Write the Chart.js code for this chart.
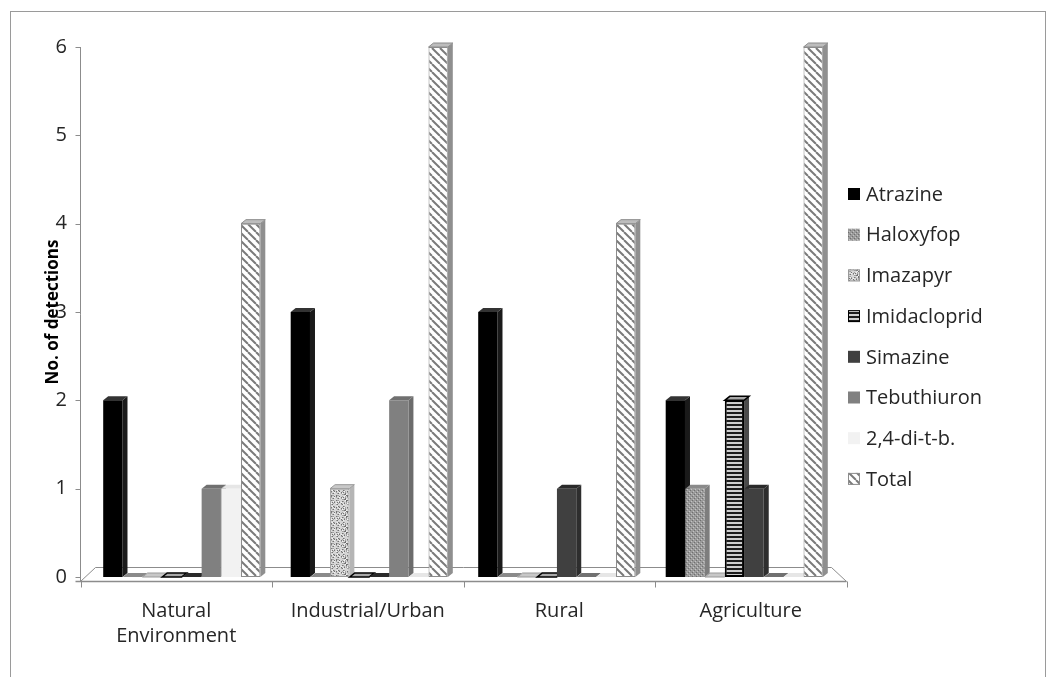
<!DOCTYPE html>
<html>
<head>
<meta charset="utf-8">
<script src="https://cdn.jsdelivr.net/npm/chart.js@4.4.1/dist/chart.umd.min.js"></script>
<style>
  html, body { margin: 0; padding: 0; background: #fff; }
  #wrap { width: 1057px; height: 677px; position: relative; }
</style>
</head>
<body>
<div id="wrap"><canvas id="c" width="1057" height="677"></canvas></div>
<script>
// Land-use categories along the x axis
const categories = [['Natural', 'Environment'], 'Industrial/Urban', 'Rural', 'Agriculture'];

// Detections per herbicide, one value per category
const atrazine     = [2, 3, 3, 2];
const haloxyfop    = [0, 0, 0, 1];
const imazapyr     = [0, 1, 0, 0];
const imidacloprid = [0, 0, 0, 2];
const simazine     = [0, 0, 1, 1];
const tebuthiuron  = [1, 2, 0, 0];
const ditb         = [1, 0, 0, 0];
const total        = [4, 6, 4, 6];

const yTicks = [0, 1, 2, 3, 4, 5, 6];
const yTitle = 'No. of detections';

const FONT = '"Open Sans", "Noto Sans", sans-serif';
const TEXT = '#262626';
const AXIS = '#8c8c8c';
const INSET = 8;        // columns stand halfway back on the floor
const DX = 5, DY = 4;   // depth offset for the pseudo-3D faces

// ---- fill textures ----
function tile(w, h, paint) {
  const c = document.createElement('canvas');
  c.width = w; c.height = h;
  const g = c.getContext('2d');
  paint(g, w, h);
  return g.createPattern(c, 'repeat');
}
const hatchTotal = tile(8, 8, (g, w, h) => {
  g.fillStyle = '#ffffff'; g.fillRect(0, 0, w, h);
  g.strokeStyle = '#7a7a7a'; g.lineWidth = 2;
  for (let k = -1; k <= 1; k++) {
    g.beginPath(); g.moveTo(k * w, 0); g.lineTo(k * w + w, h); g.stroke();
  }
});
const dotsHaloxyfop = tile(4, 4, (g) => {
  g.fillStyle = '#9a9a9a'; g.fillRect(0, 0, 4, 4);
  g.fillStyle = '#6f6f6f'; g.fillRect(0, 0, 1, 1); g.fillRect(2, 2, 1, 1);
  g.fillStyle = '#c4c4c4'; g.fillRect(1, 3, 1, 1); g.fillRect(3, 1, 1, 1);
});
const speckleImazapyr = tile(16, 16, (g) => {
  g.fillStyle = '#d6d6d6'; g.fillRect(0, 0, 16, 16);
  for (let x = 0; x < 16; x++) {
    for (let y = 0; y < 16; y++) {
      const h = (x * 37 + y * 91 + x * y * 13) % 11;
      if (h < 2) { g.fillStyle = '#737373'; g.fillRect(x, y, 1, 1); }
      else if (h < 4) { g.fillStyle = '#a3a3a3'; g.fillRect(x, y, 1, 1); }
      else if (h === 10) { g.fillStyle = '#f4f4f4'; g.fillRect(x, y, 1, 1); }
    }
  }
});
const stripesImidacloprid = tile(4, 4, (g) => {
  g.fillStyle = '#cfcfcf'; g.fillRect(0, 0, 4, 4);
  g.fillStyle = '#1c1c1c'; g.fillRect(0, 0, 4, 2);
});

const series = [
  { label: 'Atrazine',     data: atrazine,     fill: '#000000',           side: '#1a1a1a', top: '#333333', border: 'rgba(0,0,0,0)', bw: 0 },
  { label: 'Haloxyfop',    data: haloxyfop,    fill: dotsHaloxyfop,       side: '#7d7d7d', top: '#8a8a8a', border: 'rgba(0,0,0,0)', bw: 0 },
  { label: 'Imazapyr',     data: imazapyr,     fill: speckleImazapyr,     side: '#b5b5b5', top: '#c8c8c8', border: '#9a9a9a', bw: 1 },
  { label: 'Imidacloprid', data: imidacloprid, fill: stripesImidacloprid, side: '#4a4a4a', top: '#a8a8a8', border: '#000000', bw: 2 },
  { label: 'Simazine',     data: simazine,     fill: '#404040',           side: '#2e2e2e', top: '#2a2a2a', border: 'rgba(0,0,0,0)', bw: 0 },
  { label: 'Tebuthiuron',  data: tebuthiuron,  fill: '#808080',           side: '#6c6c6c', top: '#707070', border: 'rgba(0,0,0,0)', bw: 0 },
  { label: '2,4-di-t-b.',  data: ditb,         fill: '#f2f2f2',           side: '#e2e2e2', top: '#e6e6e6', border: 'rgba(0,0,0,0)', bw: 0 },
  { label: 'Total',        data: total,        fill: hatchTotal,          side: '#8f8f8f', top: '#bdbdbd', border: '#8c8c8c', bw: 1 }
];

// frame around the whole figure
const framePlugin = {
  id: 'frame',
  beforeDraw(chart) {
    const ctx = chart.ctx;
    ctx.save();
    ctx.strokeStyle = '#9a9a9a'; ctx.lineWidth = 1;
    ctx.strokeRect(10.5, 11.5, 1035, 720);
    ctx.restore();
  }
};

// maps a position on the column plane onto the floor's front edge
function frontGeometry(chart) {
  const a = chart.chartArea, xs = chart.scales.x;
  const fl = Math.round(a.left - INSET) + 0.5, fr = Math.round(a.right + INSET) + 0.5;
  const step = xs.getPixelForValue(1) - xs.getPixelForValue(0);
  const firstB = xs.getPixelForValue(0) - step / 2;
  const lastB = firstB + categories.length * step;
  const project = (px) => fl + (px - firstB) / (lastB - firstB) * (fr - fl);
  return { fl, fr, step, firstB, project };
}

// y axis line, floor plane, front edge, category ticks and labels
const floorPlugin = {
  id: 'floor',
  beforeDatasetsDraw(chart) {
    const ctx = chart.ctx, xs = chart.scales.x, ys = chart.scales.y;
    const y0 = ys.getPixelForValue(0);
    const front = y0 + 4.5, back = y0 - 9.5;
    const g = frontGeometry(chart);
    const fl = g.fl, fr = g.fr;
    ctx.save();
    ctx.strokeStyle = AXIS; ctx.lineWidth = 1;
    // value axis with its tick marks
    ctx.beginPath(); ctx.moveTo(fl, ys.getPixelForValue(yTicks[yTicks.length - 1])); ctx.lineTo(fl, front); ctx.stroke();
    yTicks.forEach(v => {
      const ty = Math.round(ys.getPixelForValue(v)) + 0.5;
      ctx.beginPath(); ctx.moveTo(fl - 5, ty); ctx.lineTo(fl, ty); ctx.stroke();
    });
    // floor outline
    ctx.beginPath();
    ctx.moveTo(fl, front); ctx.lineTo(fl + 15, back);
    ctx.lineTo(fr - 15, back); ctx.lineTo(fr, front);
    ctx.stroke();
    ctx.lineWidth = 1.5;
    ctx.beginPath(); ctx.moveTo(fl - 5, front); ctx.lineTo(fr, front); ctx.stroke();
    ctx.lineWidth = 1;
    // category boundaries on the front edge
    for (let k = 0; k <= categories.length; k++) {
      const bx = Math.round(g.project(g.firstB + k * g.step)) + 0.5;
      ctx.beginPath(); ctx.moveTo(bx, front); ctx.lineTo(bx, front + 6); ctx.stroke();
    }
    // category labels centred under the front edge
    ctx.font = '20px ' + FONT;
    ctx.fillStyle = TEXT;
    ctx.textAlign = 'center'; ctx.textBaseline = 'middle';
    categories.forEach((lab, i) => {
      const cx = g.project(xs.getPixelForValue(i));
      const lines = Array.isArray(lab) ? lab : [lab];
      lines.forEach((t, j) => ctx.fillText(t, cx, 611 + j * 25));
    });
    ctx.restore();
  }
};

// top and side faces giving each column some depth
const depthPlugin = {
  id: 'depth',
  beforeDatasetsDraw(chart) {
    const ctx = chart.ctx;
    ctx.save();
    chart.data.datasets.forEach((ds, i) => {
      const meta = chart.getDatasetMeta(i);
      meta.data.forEach((bar) => {
        const p = bar.getProps(['x', 'y', 'base', 'width'], true);
        const l = p.x - p.width / 2, r = p.x + p.width / 2;
        ctx.fillStyle = ds.sideColor;
        ctx.beginPath();
        ctx.moveTo(r, p.y); ctx.lineTo(r + DX, p.y - DY);
        ctx.lineTo(r + DX, p.base - DY); ctx.lineTo(r, p.base);
        ctx.closePath(); ctx.fill();
        ctx.fillStyle = ds.topColor;
        ctx.beginPath();
        ctx.moveTo(l, p.y); ctx.lineTo(r, p.y);
        ctx.lineTo(r + DX, p.y - DY); ctx.lineTo(l + DX, p.y - DY);
        ctx.closePath(); ctx.fill();
        if (ds.borderWidth > 0) {
          ctx.strokeStyle = ds.borderColor; ctx.lineWidth = ds.borderWidth > 1 ? 1.5 : 1;
          ctx.stroke();
        }
      });
    });
    ctx.restore();
  }
};

// rotated y-axis title
const yTitlePlugin = {
  id: 'ytitle',
  afterDraw(chart) {
    const ctx = chart.ctx, a = chart.chartArea;
    ctx.save();
    ctx.translate(53, (a.top + a.bottom) / 2);
    ctx.rotate(-Math.PI / 2);
    ctx.font = 'bold 17px ' + FONT;
    ctx.fillStyle = '#000';
    ctx.textAlign = 'center'; ctx.textBaseline = 'middle';
    ctx.fillText(yTitle, 0, 0);
    ctx.restore();
  }
};

// legend column on the right
const legendPlugin = {
  id: 'sideLegend',
  afterDraw(chart) {
    const ctx = chart.ctx;
    ctx.save();
    ctx.font = '20px ' + FONT;
    ctx.textBaseline = 'middle';
    chart.data.datasets.forEach((ds, i) => {
      const cy = 194 + i * 40.7;
      ctx.fillStyle = ds.backgroundColor;
      ctx.fillRect(848, cy - 6, 12, 12);
      if (ds.borderWidth > 0) {
        ctx.strokeStyle = ds.borderColor; ctx.lineWidth = 1;
        ctx.strokeRect(848.5, cy - 5.5, 11, 11);
      }
      ctx.fillStyle = TEXT;
      ctx.fillText(ds.label, 866, cy + 1);
    });
    ctx.restore();
  }
};

new Chart(document.getElementById('c'), {
  type: 'bar',
  data: {
    labels: categories,
    datasets: series.map(s => ({
      label: s.label,
      data: s.data,
      backgroundColor: s.fill,
      borderColor: s.border,
      borderWidth: s.bw,
      borderSkipped: false,
      sideColor: s.side,
      topColor: s.top,
      categoryPercentage: 0.84,
      barPercentage: 0.98
    }))
  },
  options: {
    responsive: false,
    devicePixelRatio: 1,
    animation: false,
    layout: { padding: { left: 0, top: 47, right: 1057 - 838, bottom: 0 } },
    plugins: { legend: { display: false }, tooltip: { enabled: false } },
    scales: {
      x: {
        grid: { display: false },
        border: { display: false },
        ticks: { display: false },
        afterFit(s) { s.height = 677 - 577; }
      },
      y: {
        min: 0, max: 6,
        afterBuildTicks(s) { s.ticks = yTicks.map(v => ({ value: v })); },
        grid: { display: false, drawTicks: false },
        border: { display: false },
        ticks: { font: { family: FONT, size: 20 }, color: TEXT, padding: 21 },
        afterFit(s) { s.width = 88; }
      }
    }
  },
  plugins: [framePlugin, floorPlugin, depthPlugin, yTitlePlugin, legendPlugin]
});
</script>
</body>
</html>
